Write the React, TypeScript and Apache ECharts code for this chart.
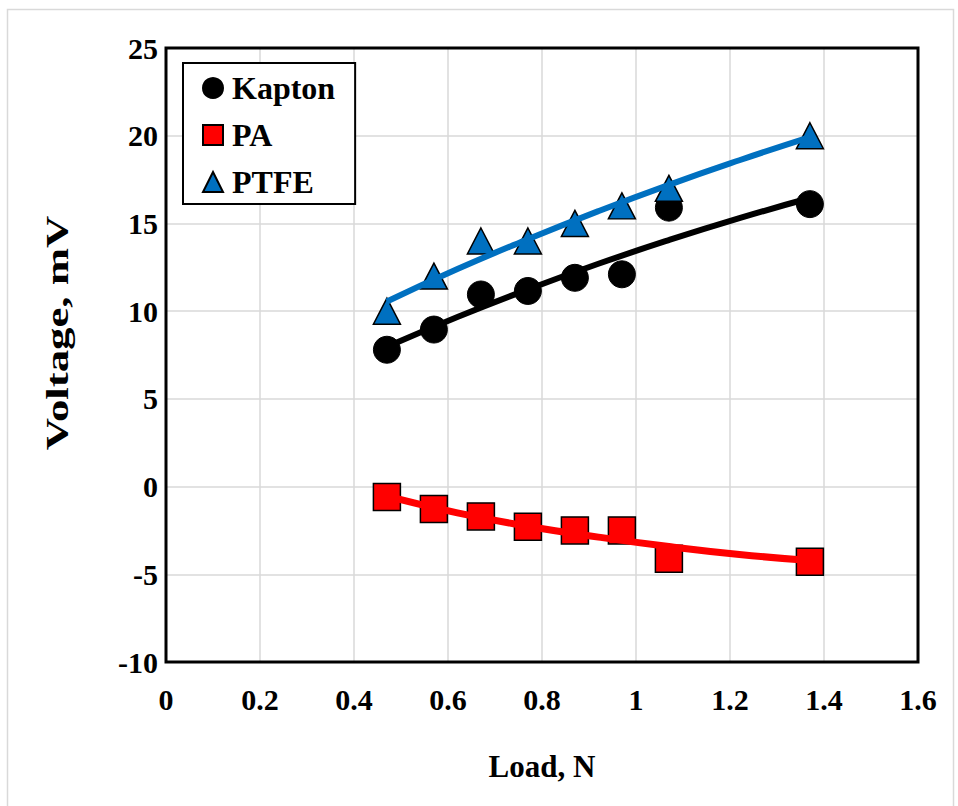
import React, { useEffect, useRef } from "react";
import * as echarts from "echarts";

const xLoad = [0.47, 0.57, 0.67, 0.77, 0.87, 0.97, 1.07, 1.37];
const kapton = [7.8, 8.95, 10.95, 11.15, 11.9, 12.1, 15.9, 16.1];
const pa = [-0.6, -1.28, -1.7, -2.29, -2.5, -2.5, -4.12, -4.29];
const ptfe = [10, 12, 14, 14, 15, 16, 17, 20];

const trendX = [0.47, 0.62, 0.77, 0.92, 1.07, 1.22, 1.37];
const kaptonTrend = [7.97, 9.67, 11.24, 12.7, 14.05, 15.3, 16.45];
const paTrend = [-0.55, -1.5, -2.26, -2.88, -3.42, -3.87, -4.22];
const ptfeTrend = [10.55, 12.4, 14.1, 15.7, 17.2, 18.6, 19.92];

const FONT = "'Times New Roman', 'Liberation Serif', serif";

const pairs = (xs: number[], ys: number[]) => xs.map((x, i) => [x, ys[i]]);

export default function App() {
  const ref = useRef<HTMLDivElement>(null);
  useEffect(() => {
    if (!ref.current) return;
    const chart = echarts.init(ref.current, null, { renderer: "svg" });
    chart.setOption({
      animation: false,
      backgroundColor: "#fff",
      grid: {
        left: 166,
        right: 40,
        top: 48,
        bottom: 144,
        show: true,
        borderColor: "#000",
        borderWidth: 3,
        backgroundColor: "transparent",
        z: 10,
      },
      graphic: [
        {
          type: "rect",
          left: 5,
          top: 7,
          shape: { width: 946, height: 810 },
          style: { fill: "none", stroke: "#d9d9d9", lineWidth: 1.5 },
          z: -1,
        },
        {
          type: "text",
          x: 57,
          y: 333,
          rotation: Math.PI / 2,
          scaleX: 1.4,
          style: {
            text: "Voltage, mV",
            fontFamily: FONT,
            fontWeight: "bold",
            fontSize: 32,
            fill: "#000",
            align: "center",
            verticalAlign: "middle",
          },
        },
      ],
      legend: {
        left: 183,
        top: 63,
        orient: "vertical",
        data: ["Kapton", "PA", "PTFE"],
        backgroundColor: "#fff",
        borderColor: "#000",
        borderWidth: 2,
        padding: [9, 20, 6, 19],
        itemGap: 15,
        itemWidth: 20,
        itemHeight: 20,
        textStyle: {
          fontFamily: FONT,
          fontWeight: "bold",
          fontSize: 32,
          color: "#000",
          padding: [0, 0, 0, 4],
        },
      },
      xAxis: {
        type: "value",
        min: 0,
        max: 1.6,
        interval: 0.2,
        name: "Load, N",
        nameLocation: "middle",
        nameGap: 104,
        nameTextStyle: {
          fontFamily: FONT,
          fontWeight: "bold",
          fontSize: 31,
          color: "#000",
          verticalAlign: "middle",
        },
        axisLine: { show: false },
        axisTick: { show: false },
        axisLabel: {
          fontFamily: FONT,
          fontWeight: "bold",
          fontSize: 30,
          color: "#000",
          margin: 22,
        },
        splitLine: { lineStyle: { color: "#d9d9d9", width: 1.5 } },
      },
      yAxis: {
        type: "value",
        min: -10,
        max: 25,
        interval: 5,
        axisLine: { show: false },
        axisTick: { show: false },
        axisLabel: {
          fontFamily: FONT,
          fontWeight: "bold",
          fontSize: 30,
          color: "#000",
          margin: 8,
        },
        splitLine: { lineStyle: { color: "#d9d9d9", width: 1.5 } },
      },
      series: [
        {
          name: "Kapton",
          type: "scatter",
          symbol: "circle",
          symbolSize: 27,
          itemStyle: { color: "#000", borderColor: "#000", borderWidth: 1, opacity: 1 },
          data: pairs(xLoad, kapton),
          z: 2,
        },
        {
          name: "PA",
          type: "scatter",
          symbol: "rect",
          symbolSize: 27,
          itemStyle: { color: "#ff0000", borderColor: "#000", borderWidth: 1.5, opacity: 1 },
          data: pairs(xLoad, pa),
          z: 3,
        },
        {
          name: "PTFE",
          type: "scatter",
          symbol: "triangle",
          symbolSize: [27, 26],
          itemStyle: { color: "#0070c0", borderColor: "#000", borderWidth: 1.5, opacity: 1 },
          data: pairs(xLoad, ptfe),
          z: 4,
        },
        {
          name: "Kapton trend",
          type: "line",
          smooth: true,
          showSymbol: false,
          symbol: "none",
          lineStyle: { color: "#000", width: 6 },
          data: pairs(trendX, kaptonTrend),
          z: 5,
        },
        {
          name: "PA trend",
          type: "line",
          smooth: true,
          showSymbol: false,
          symbol: "none",
          lineStyle: { color: "#ff0000", width: 7 },
          data: pairs(trendX, paTrend),
          z: 5,
        },
        {
          name: "PTFE trend",
          type: "line",
          smooth: true,
          showSymbol: false,
          symbol: "none",
          lineStyle: { color: "#0070c0", width: 6 },
          data: pairs(trendX, ptfeTrend),
          z: 5,
        },
      ],
    });
    return () => chart.dispose();
  }, []);
  return (
    <div
      ref={ref}
      style={{ position: "absolute", left: 0, top: 0, width: 958, height: 806 }}
    />
  );
}
